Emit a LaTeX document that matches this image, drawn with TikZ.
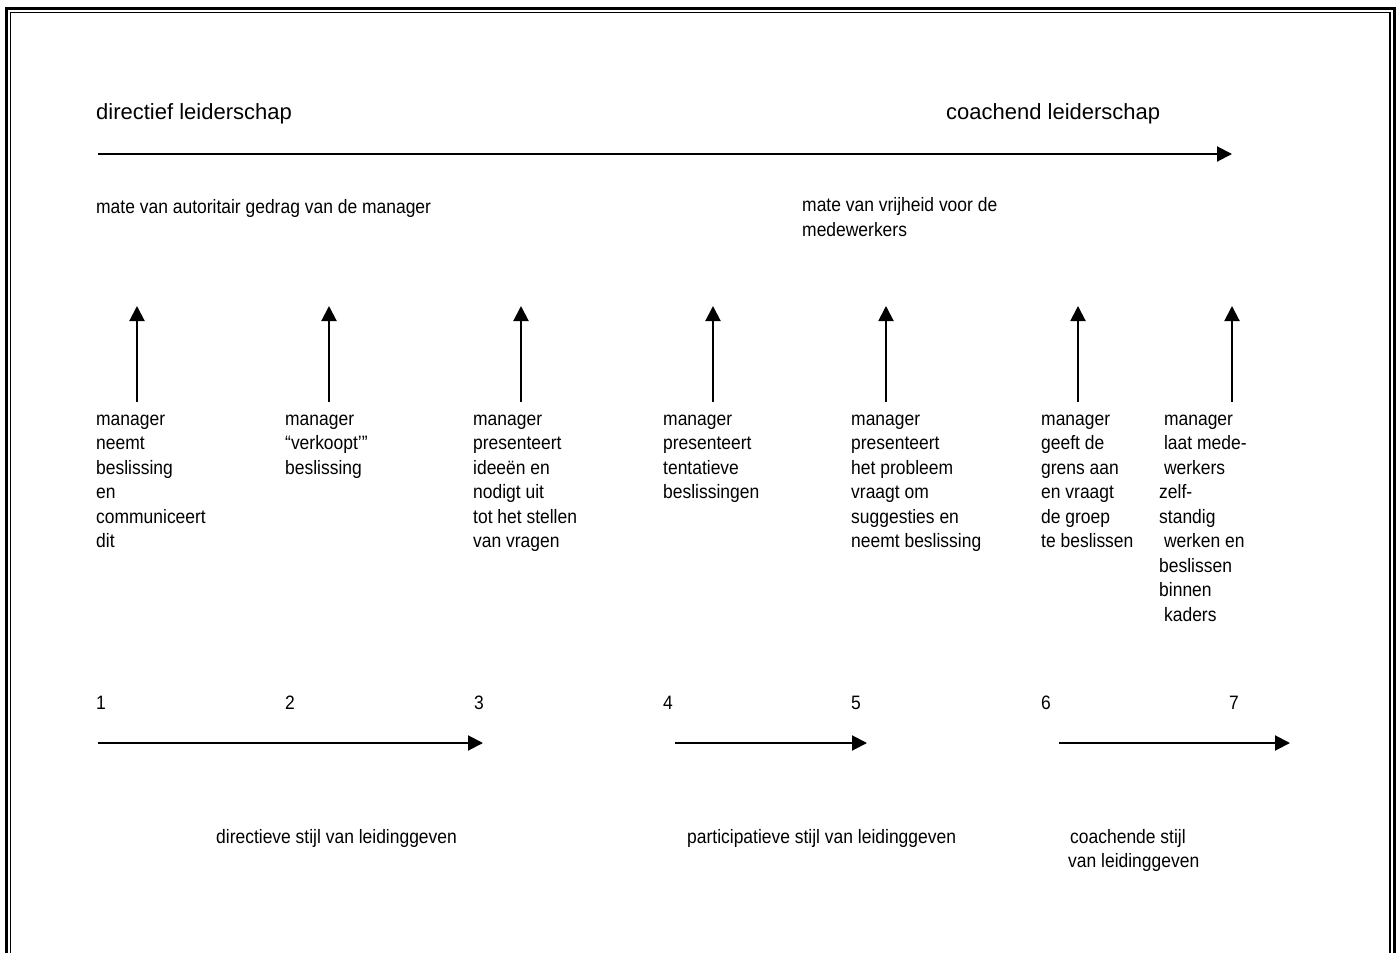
\documentclass[tikz,border=0pt]{standalone}
\usepackage{fontspec}
\setmainfont{Liberation Sans}
\newfontfamily\narrowsans[FakeStretch=0.9]{Liberation Sans}
\usetikzlibrary{arrows.meta}
\begin{document}
\begin{tikzpicture}[x=1pt,y=-1pt,
  arr/.style={line width=2pt,-{Triangle[length=15pt,width=15pt]}},
  big/.style={font=\fontsize{22}{26}\selectfont, inner sep=0pt, anchor=base west},
  small/.style={font=\narrowsans\fontsize{19.4}{24.5}\selectfont, inner sep=0pt, anchor=base west},
  lbl/.style={font=\narrowsans\fontsize{19.4}{24.5}\selectfont, inner sep=0pt, anchor=north west, align=left},
  outerframe/.style={line width=3pt},
  innerframe/.style={line width=1.2pt}]
\useasboundingbox (0,0) rectangle (1400,953);
% frame
\draw[outerframe] (6.5,953) -- (6.5,8) -- (1394.7,8) -- (1394.7,953);
\draw[innerframe] (10.7,953) -- (10.7,12.2) -- (1390,12.2) -- (1390,953);

% headings
\node[big] (dir) at (96,119) {directief leiderschap};
\node[big] (coach) at (946,119) {coachend leiderschap};

% top arrow
\coordinate (t0) at (98,154);
\coordinate (t1) at (1232,154);
\draw[arr] (t0) -- (t1);

\node[small] (aut) at (96,213) {mate van autoritair gedrag van de manager};
\node[lbl] (vrij) at (802,194.5) {\strut mate van vrijheid voor de\\medewerkers};

% vertical arrows
\foreach \i/\x in {1/137,2/329,3/521,4/713,5/886,6/1078,7/1232}{
  \coordinate (u\i b) at (\x,402);
  \coordinate (u\i t) at (\x,306);
  \draw[arr] (u\i b) -- (u\i t);
}

% column texts
\node[lbl] (c1) at (96,407.85) {\strut manager\\neemt\\beslissing\\en\\communiceert\\dit};
\node[lbl] (c2) at (285,407.85) {\strut manager\\“verkoopt’”\\beslissing};
\node[lbl] (c3) at (473,407.85) {\strut manager\\presenteert\\ideeën en\\nodigt uit\\tot het stellen\\van vragen};
\node[lbl] (c4) at (663,407.85) {\strut manager\\presenteert\\tentatieve\\beslissingen};
\node[lbl] (c5) at (851,407.85) {\strut manager\\presenteert\\het probleem\\vraagt om\\suggesties en\\neemt beslissing};
\node[lbl] (c6) at (1041,407.85) {\strut manager\\geeft de\\grens aan\\en vraagt\\de groep\\te beslissen};
\node[lbl] (c7) at (1159,407.85) {\strut\hspace*{4.9pt}manager\\\hspace*{4.9pt}laat mede-\\\hspace*{4.9pt}werkers\\zelf-\\standig\\\hspace*{4.9pt}werken en\\beslissen\\binnen\\\hspace*{4.9pt}kaders};

% numbers
\node[small] (n1) at (96,709) {1};
\node[small] (n2) at (285,709) {2};
\node[small] (n3) at (474,709) {3};
\node[small] (n4) at (663,709) {4};
\node[small] (n5) at (851,709) {5};
\node[small] (n6) at (1041,709) {6};
\node[small] (n7) at (1229,709) {7};

% bottom arrows
\coordinate (b1s) at (98,743);
\coordinate (b1e) at (483,743);
\coordinate (b2s) at (675,743);
\coordinate (b2e) at (867,743);
\coordinate (b3s) at (1059,743);
\coordinate (b3e) at (1290,743);
\draw[arr] (b1s) -- (b1e);
\draw[arr] (b2s) -- (b2e);
\draw[arr] (b3s) -- (b3e);

% bottom labels
\node[small] (s1) at (216,843) {directieve stijl van leidinggeven};
\node[small] (s2) at (687,843) {participatieve stijl van leidinggeven};
\node[lbl] (s3) at (1068,825.85) {\strut\hspace*{2pt}coachende stijl\\van leidinggeven};
\end{tikzpicture}
\end{document}
